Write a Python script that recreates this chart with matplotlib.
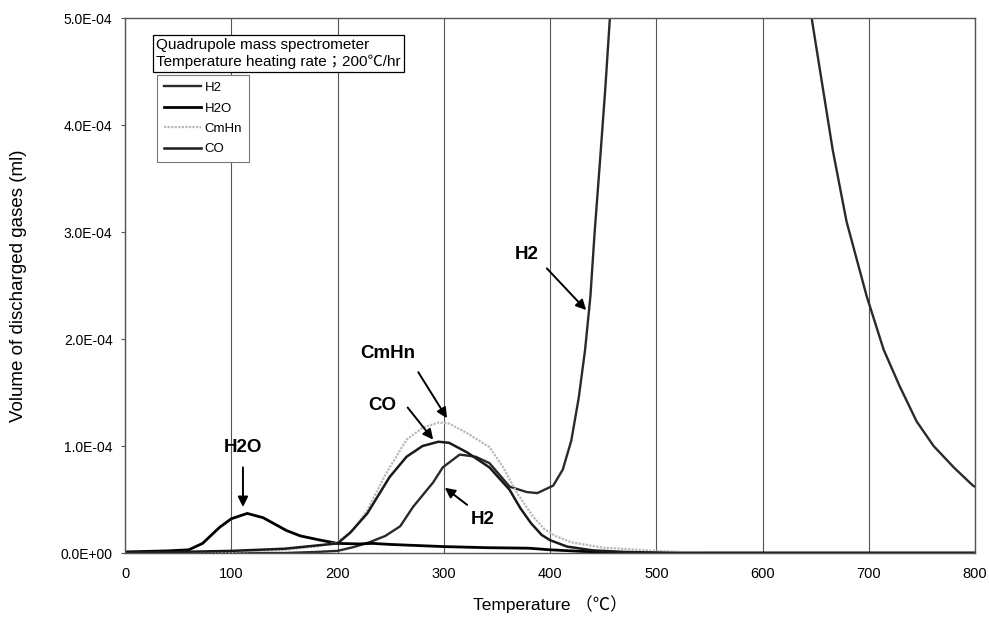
import matplotlib
matplotlib.use("Agg")
import matplotlib.pyplot as plt
from matplotlib.ticker import FuncFormatter

plt.rcParams['font.family'] = ['Liberation Sans', 'Noto Sans CJK JP', 'DejaVu Sans']

# values (volume in units of 1e-4 ml)
h2_t = [0, 50, 100, 150, 180, 200, 215, 230, 245, 259, 271, 290, 299, 315, 330, 343, 362, 378, 388,
        403, 412, 420, 427, 433, 438, 442, 447, 452, 456, 460, 550, 640, 647, 666, 679, 698, 714, 729,
        745, 761, 780, 798, 800]
h2_v = [0.0, 0.0, 0.0, 0.0, 0.01, 0.02, 0.055, 0.10, 0.16, 0.25, 0.43, 0.66, 0.80, 0.92, 0.90, 0.84,
        0.62, 0.57, 0.56, 0.63, 0.78, 1.05, 1.45, 1.9, 2.4, 3.0, 3.66, 4.34, 4.95, 5.6, 9.0, 5.4, 4.95,
        3.77, 3.1, 2.4, 1.9, 1.56, 1.23, 1.0, 0.8, 0.63, 0.62]

h2o_t = [0, 40, 60, 73, 89, 100, 115, 130, 152, 165, 184, 200, 220, 233, 250, 275, 300, 340, 380,
         400, 430, 460, 500, 600, 700, 800]
h2o_v = [0.01, 0.02, 0.03, 0.09, 0.24, 0.32, 0.37, 0.33, 0.21, 0.16, 0.12, 0.09, 0.085, 0.09, 0.08,
         0.07, 0.06, 0.05, 0.045, 0.03, 0.015, 0.005, 0.0, 0.0, 0.0, 0.0]

cmhn_t = [0, 100, 150, 180, 200, 215, 228, 246, 265, 280, 295, 305, 322, 343, 356, 369, 384, 395,
          405, 420, 450, 500, 550, 800]
cmhn_v = [0.0, 0.01, 0.03, 0.06, 0.10, 0.22, 0.40, 0.75, 1.06, 1.17, 1.22, 1.21, 1.12, 0.99, 0.80,
          0.56, 0.34, 0.22, 0.16, 0.10, 0.05, 0.02, 0.0, 0.0]

co_t = [0, 50, 100, 150, 180, 200, 212, 228, 249, 265, 280, 295, 305, 322, 343, 362, 372, 382, 392,
        400, 416, 440, 470, 520, 800]
co_v = [0.0, 0.01, 0.02, 0.04, 0.07, 0.09, 0.19, 0.37, 0.71, 0.90, 1.00, 1.04, 1.03, 0.94, 0.80,
        0.59, 0.42, 0.28, 0.17, 0.12, 0.06, 0.025, 0.01, 0.0, 0.0]

x_ticks = [0, 100, 200, 300, 400, 500, 600, 700, 800]
y_ticks = [0, 1e-4, 2e-4, 3e-4, 4e-4, 5e-4]

scale = 1e-4
fig = plt.figure(figsize=(9.89, 6.19), dpi=100)
ax = fig.add_axes([0.1264, 0.1066, 0.8595, 0.8643])

ax.plot(h2_t, [v * scale for v in h2_v], color='#2a2a2a', lw=1.7, label='H2')
ax.plot(h2o_t, [v * scale for v in h2o_v], color='black', lw=2.0, label='H2O')
ax.plot(cmhn_t, [v * scale for v in cmhn_v], color='#b8b8b8', lw=1.6, ls=(0, (1, 0.6)), label='CmHn')
ax.plot(co_t, [v * scale for v in co_v], color='#1a1a1a', lw=1.8, label='CO')

ax.set_xlim(0, 800)
ax.set_ylim(0, 5e-4)
ax.set_xticks(x_ticks)
ax.set_yticks(y_ticks)
ax.yaxis.set_major_formatter(FuncFormatter(lambda v, p: f"{v:.1E}"))
ax.tick_params(axis='x', length=0, pad=10, labelsize=10.5)
ax.tick_params(axis='y', length=3, direction='out', pad=6, labelsize=10, color='#555555')
ax.grid(axis='x', color='#555555', lw=0.8)
for s in ax.spines.values():
    s.set_color('#555555')
    s.set_linewidth(1.0)

ax.set_xlabel('Temperature （℃）', fontsize=12.5, labelpad=10)
ax.set_ylabel('Volume of discharged gases (ml)', fontsize=13.5, labelpad=24)

ax.text(0.037, 0.963, 'Quadrupole mass spectrometer\nTemperature heating rate；200℃/hr',
        transform=ax.transAxes, fontsize=11, va='top', ha='left', linespacing=1.2,
        bbox=dict(boxstyle='square,pad=0.2', fc='white', ec='black', lw=0.9))

leg = ax.legend(loc='upper left', bbox_to_anchor=(0.038, 0.893), fontsize=9.5, handlelength=2.8,
                fancybox=False, edgecolor='#777777', framealpha=1, borderpad=0.5,
                labelspacing=0.62, borderaxespad=0, handletextpad=0.3)
leg.get_frame().set_linewidth(0.8)

# labels with arrows (text position, arrow start, arrow tip)
labels = [('H2O', (111, 0.99e-4), (111, 0.80e-4), (111, 0.43e-4)),
          ('CO', (242, 1.38e-4), (266, 1.36e-4), (290, 1.06e-4)),
          ('CmHn', (247, 1.86e-4), (276, 1.69e-4), (303, 1.26e-4)),
          ('H2', (337, 0.31e-4), (322, 0.45e-4), (301, 0.61e-4)),
          ('H2', (378, 2.79e-4), (397, 2.66e-4), (434, 2.27e-4))]
for txt, pos, start, tip in labels:
    ax.text(pos[0], pos[1], txt, ha='center', va='center', fontsize=13.5, fontweight='bold')
    ax.annotate('', xy=tip, xytext=start,
                arrowprops=dict(arrowstyle='-|>', color='black', lw=1.4, mutation_scale=15,
                                shrinkA=0, shrinkB=0))

fig.savefig('out.png', dpi=100)
